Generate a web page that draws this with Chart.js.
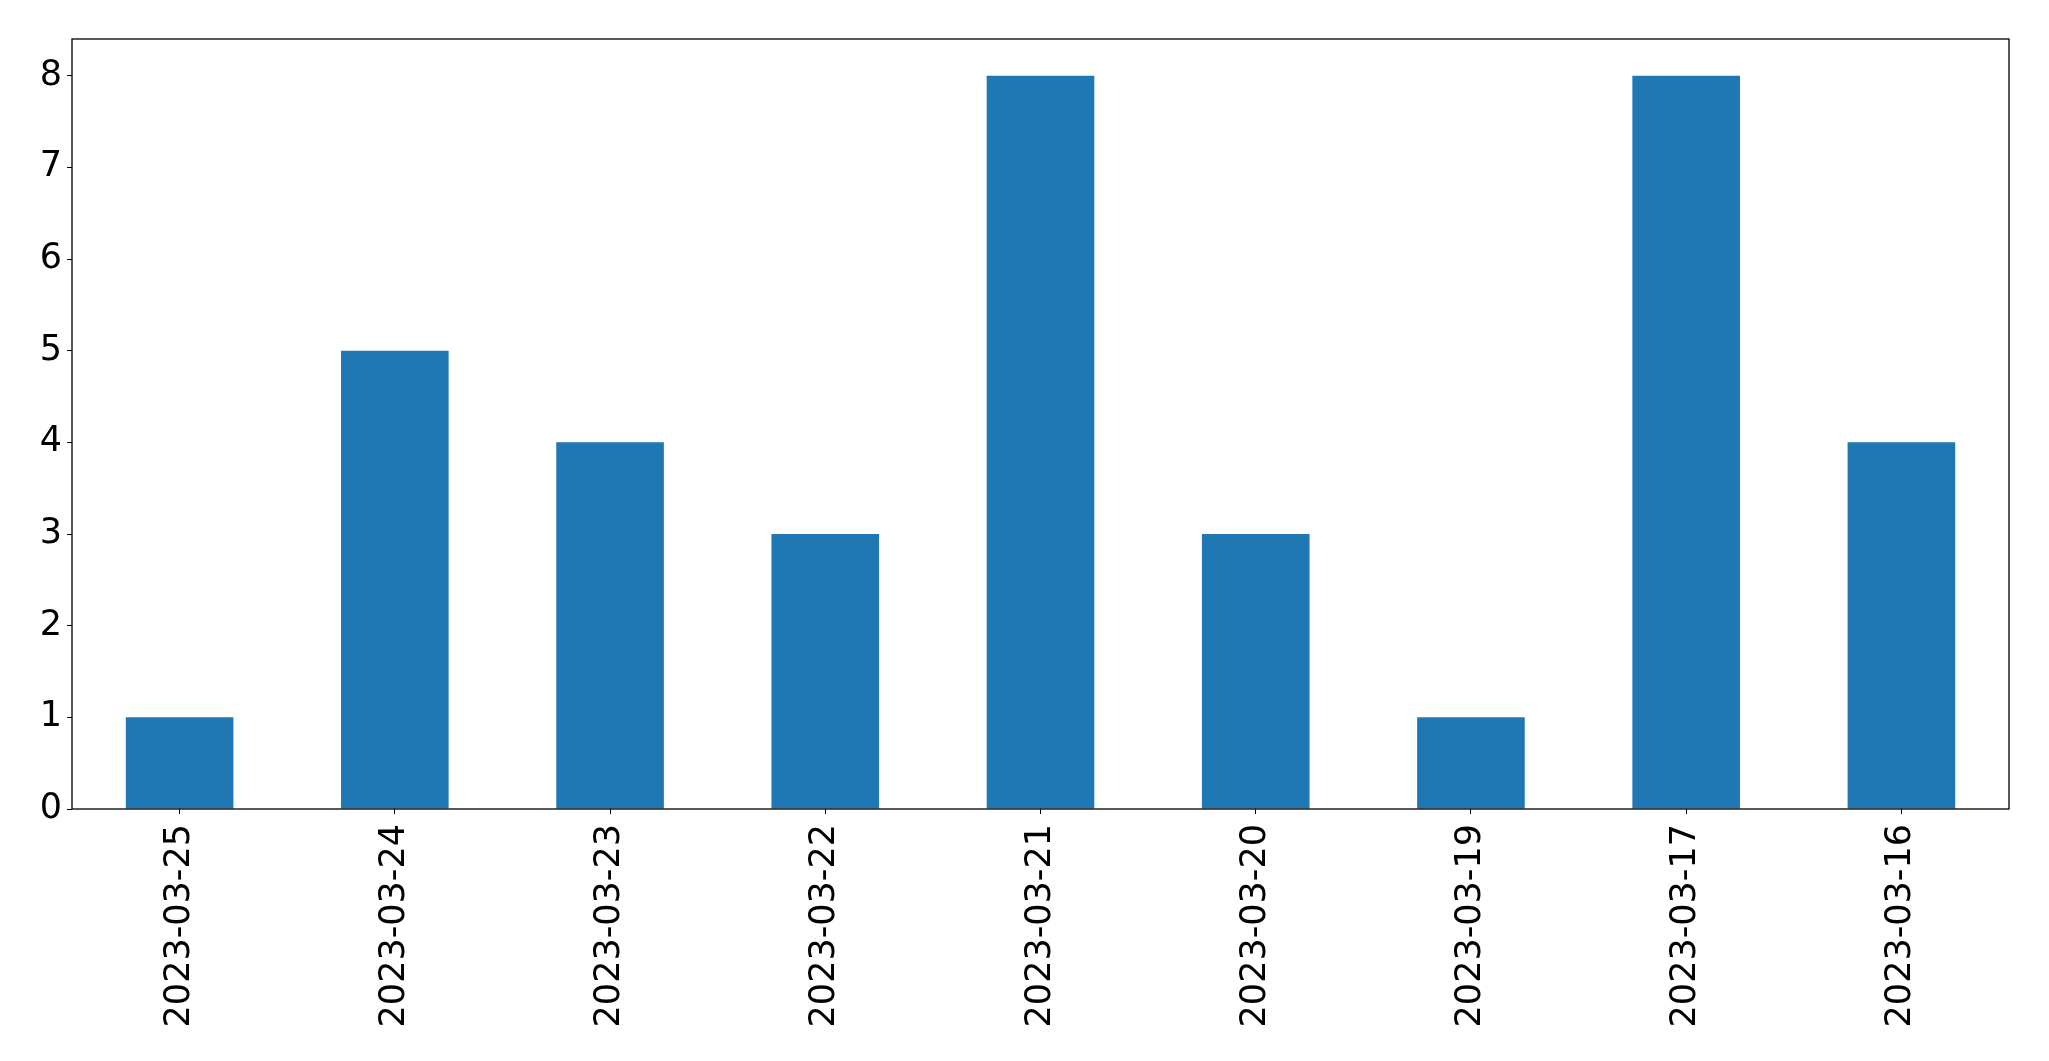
<!DOCTYPE html>
<html>
<head>
<meta charset="utf-8">
<script src="https://cdn.jsdelivr.net/npm/chart.js@4/dist/chart.umd.min.js"></script>
<style>
  body { margin: 0; background: #fff; }
  canvas { display: block; }
</style>
</head>
<body>
<canvas id="barChart" width="2049" height="1061"></canvas>
<script>
const dates = ['2023-03-25', '2023-03-24', '2023-03-23', '2023-03-22', '2023-03-21',
               '2023-03-20', '2023-03-19', '2023-03-17', '2023-03-16'];
const counts = [1, 5, 4, 3, 8, 3, 1, 8, 4];
const yTicks = [0, 1, 2, 3, 4, 5, 6, 7, 8];

// full box around the plot area, like matplotlib's spines
const frame = {
    id: 'frame',
    afterDraw(chart) {
        const a = chart.chartArea;
        const ctx = chart.ctx;
        ctx.save();
        ctx.strokeStyle = '#000';
        ctx.lineWidth = 1.3;
        ctx.strokeRect(a.left, a.top, a.right - a.left, a.bottom - a.top);
        ctx.restore();
    }
};

const font = { family: 'DejaVu Sans', size: 35 };

new Chart(document.getElementById('barChart').getContext('2d'), {
    type: 'bar',
    data: {
        labels: dates,
        datasets: [{
            data: counts,
            backgroundColor: '#1f77b4',
            borderWidth: 0,
            categoryPercentage: 1.0,
            barPercentage: 0.5
        }]
    },
    options: {
        responsive: false,
        devicePixelRatio: 1,
        animation: false,
        layout: { padding: { top: 39, right: 40, left: 0, bottom: 0 } },
        plugins: { legend: { display: false }, tooltip: { enabled: false } },
        scales: {
            x: {
                grid: { offset: false, drawOnChartArea: false, drawTicks: true, tickLength: 5, color: '#000' },
                border: { display: false },
                ticks: { color: '#000', font: font, minRotation: 90, maxRotation: 90, padding: 10 },
                afterFit(scale) { scale.height = 252; }
            },
            y: {
                min: 0,
                max: 8.4,
                afterBuildTicks(scale) { scale.ticks = yTicks.map(v => ({ value: v })); },
                grid: { drawOnChartArea: false, drawTicks: true, tickLength: 5, color: '#000' },
                border: { display: false },
                ticks: { color: '#000', font: font, padding: 5 },
                afterFit(scale) { scale.width = 72; }
            }
        }
    },
    plugins: [frame]
});
</script>
</body>
</html>
